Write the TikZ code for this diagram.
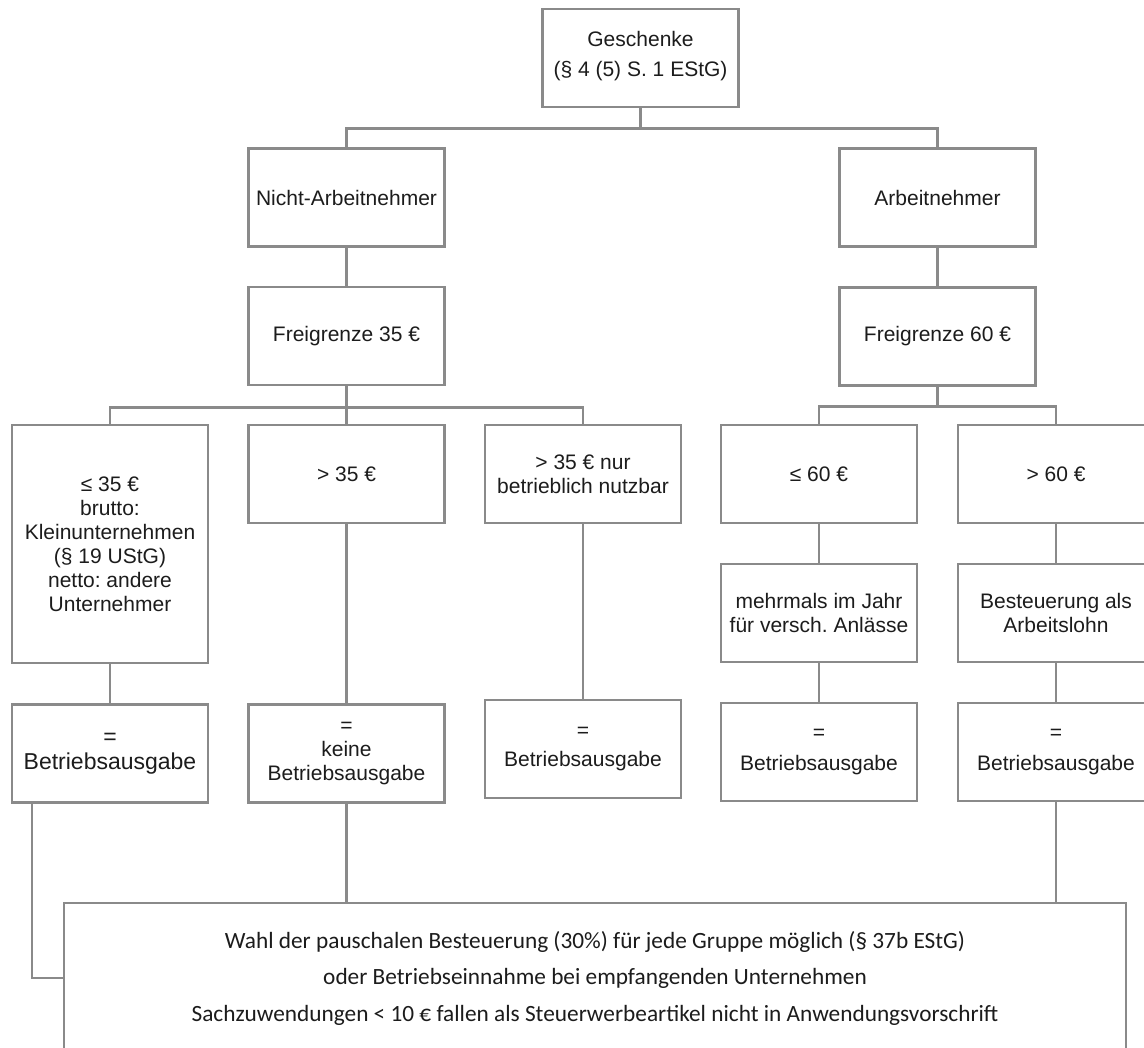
\documentclass[tikz,border=0pt]{standalone}
\usepackage{fontspec}
\setmainfont{Liberation Sans}
\newfontfamily\calibri{Carlito}
\usepackage{tikz}
\usetikzlibrary{calc}
\usetikzlibrary{positioning}
\frenchspacing

\definecolor{linegray}{RGB}{138,138,138}
\definecolor{textdark}{RGB}{28,28,28}

\tikzset{
  box/.style={draw=linegray, line width=2.6pt, fill=white, minimum width=196pt,
    minimum height=98pt, inner sep=0pt, align=center, text=textdark,
    font=\fontsize{21}{24}\selectfont},
  conn/.style={draw=linegray, line width=2.6pt},
}

\begin{document}
\begin{tikzpicture}[x=1pt,y=-1pt]
\clip (0,0) rectangle (1144,1048);
\fill[white] (0,0) rectangle (1144,1048);

% top levels
\node[box] (gesch) at (640.5,58) {\\[-12pt]Geschenke\\[6pt](§ 4 (5) S. 1 EStG)};
\node[box] (nicht) at (346.5,197.5) {Nicht-Arbeitnehmer};
\node[box] (arbeit) at (937.5,197.5) {Arbeitnehmer};
\node[box] (frei35) at (346.5,336) {Freigrenze 35 €};
\node[box] (frei60) at (937.5,336.5) {Freigrenze 60 €};

% cases
\node[box, minimum height=238pt] (klein) at (110,544)
  {≤ 35 €\\brutto:\\Kleinunternehmen\\(§ 19 UStG)\\netto: andere\\Unternehmer};
\node[box] (gt35) at (346.5,474) {> 35 €};
\node[box] (nutz) at (583,474) {> 35 € nur\\betrieblich nutzbar};
\node[box] (le60) at (819,474) {≤ 60 €};
\node[box] (gt60) at (1056,474) {> 60 €};
\node[box] (mehr) at (819,613) {mehrmals im Jahr\\für versch. Anlässe};
\node[box] (steuer) at (1056,613) {Besteuerung als\\Arbeitslohn};

% results
\node[box, font=\fontsize{23}{25}\selectfont] (ba1) at (110,753.5) {=\\Betriebsausgabe};
\node[box] (keine) at (346.5,753.5) {=\\keine\\Betriebsausgabe};
\node[box] (ba3) at (583,749) {=\\[5pt]Betriebsausgabe};
\node[box] (ba4) at (819,752) {=\\[7pt]Betriebsausgabe};
\node[box] (ba5) at (1056,752) {=\\[7pt]Betriebsausgabe};

\node[box, minimum width=1062pt, minimum height=150pt,
  font=\calibri\fontsize{23.3}{36.5}\selectfont] (wahl) at (595,978)
  {Wahl der pauschalen Besteuerung (30\%) für jede Gruppe möglich (§ 37b EStG)\\
   oder Betriebseinnahme bei empfangenden Unternehmen\\
   Sachzuwendungen < 10 € fallen als Steuerwerbeartikel nicht in Anwendungsvorschrift};

% branches
\draw[conn] (gesch.south) -- ++(0,20) coordinate (t0);
\draw[conn] (nicht.north) |- (t0) -| (arbeit.north);
\draw[conn] (frei35.south) -- ++(0,21) coordinate (t1);
\draw[conn] (klein.north) |- (t1) -| (nutz.north);
\draw[conn] (t1) -- (gt35.north);
\draw[conn] (frei60.south) -- ++(0,20) coordinate (t2);
\draw[conn] (le60.north) |- (t2) -| (gt60.north);

\foreach \a/\b in {nicht/frei35, arbeit/frei60, klein/ba1, gt35/keine,
  nutz/ba3, le60/mehr, mehr/ba4, gt60/steuer, steuer/ba5}
{
  \draw[conn] (\a) -- (\b);
}

% to the note
\draw[conn] ([xshift=-78pt]ba1.south) |- (wahl.west);
\draw[conn] (keine.south) -- (keine.south |- wahl.north);
\draw[conn] (ba5.south) -- (ba5.south |- wahl.north);

\end{tikzpicture}
\end{document}
